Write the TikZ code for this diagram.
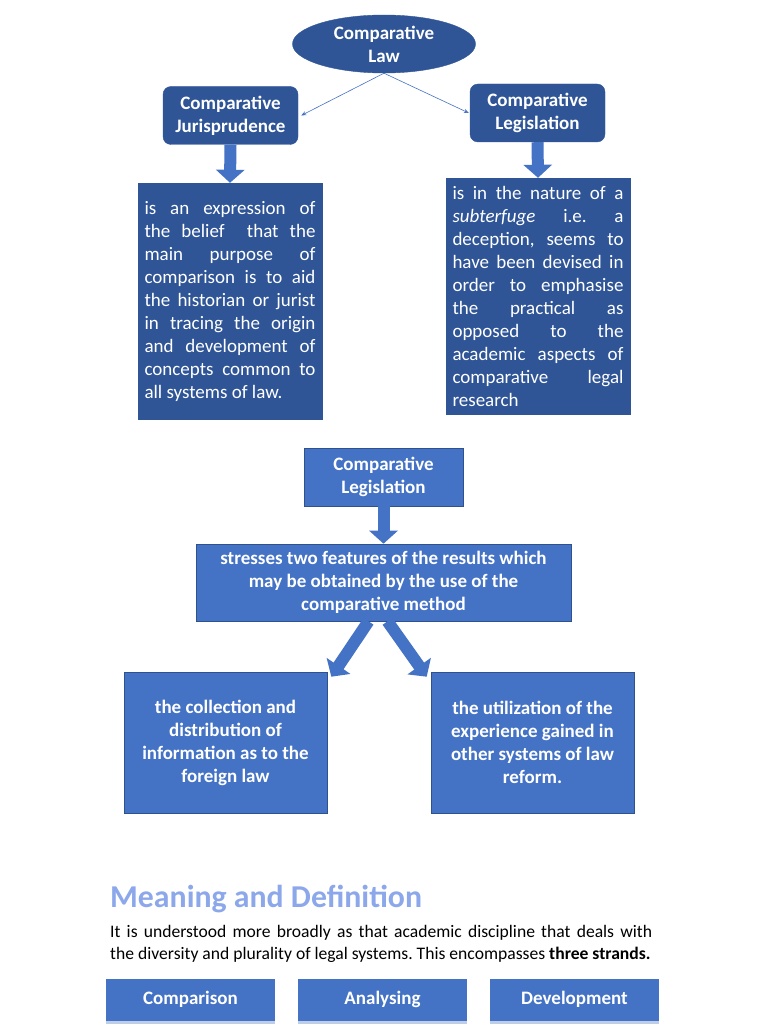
\documentclass[tikz,border=0pt]{standalone}
\usepackage{fontspec}
\setmainfont{Carlito}
\usetikzlibrary{shapes.geometric,arrows.meta}
\definecolor{dkblue}{RGB}{47,85,151}
\definecolor{ltblue}{RGB}{68,114,196}
\definecolor{hdblue}{RGB}{140,168,235}
\definecolor{edgeblue}{RGB}{47,82,143}
\definecolor{stripblue}{RGB}{190,205,232}
\begin{document}
\begin{tikzpicture}[x=1pt,y=-1pt,
  boxfont/.style={font=\fontsize{19}{23}\selectfont},
  headbox/.style={boxfont, font=\fontsize{19}{23}\selectfont\bfseries, text=white, fill=dkblue, draw=dkblue, rounded corners=8pt, align=center, inner sep=0pt},
  darkbox/.style={boxfont, text=white, fill=dkblue, draw=dkblue, inner xsep=6.5pt, inner ysep=0pt, align=justify},
  litebox/.style={font=\fontsize{19}{23}\selectfont\bfseries, text=white, fill=ltblue, draw=edgeblue, line width=0.6pt, align=center, inner sep=0pt},
  stripbox/.style={font=\fontsize{19}{23}\selectfont\bfseries, text=white, fill=ltblue, minimum width=169pt, minimum height=42pt, inner sep=0pt},
  blockarrow/.style={draw=ltblue, line width=12pt, -{Triangle[width=28pt,length=13pt]}},
  thinarrow/.style={draw=ltblue, line width=0.6pt, -{Stealth[length=5pt,width=4pt]}}
]
\useasboundingbox (0,0) rectangle (768,1024);
\fill[white] (0,0) rectangle (768,1024);

% top part
\node[ellipse, fill=dkblue, draw=dkblue, text=white, minimum width=183pt, minimum height=58pt, inner sep=0pt, align=center, font=\fontsize{19}{23}\selectfont\bfseries] (law) at (384,44) {Comparative\\Law};
\node[headbox, minimum width=135pt, minimum height=58pt] (jur) at (230.5,115.5) {Comparative\\Jurisprudence};
\node[headbox, minimum width=135pt, minimum height=58pt] (leg) at (537.5,113) {Comparative\\Legislation};

\draw[thinarrow] (law.south) -- ([xshift=3pt]jur.east);
\draw[thinarrow] (law.south) -- ([xshift=-1pt]leg.west);

\node[darkbox, minimum width=184pt, minimum height=236pt, text width=171pt] (jtext) at (230,301) {\frenchspacing\tolerance=10000\hyphenpenalty=10000
is an expression of\linebreak the belief\ \ that the\linebreak main purpose of\linebreak comparison is to aid\linebreak the historian or jurist\linebreak in tracing the origin\linebreak and development of\linebreak concepts common to\linebreak all systems of law.};

\node[darkbox, minimum width=184pt, minimum height=236pt, text width=171pt] (ltext) at (538,296) {\frenchspacing\tolerance=10000\hyphenpenalty=10000
is in the nature of a\linebreak \textit{subterfuge} i.e. a\linebreak deception, seems to\linebreak have been devised in\linebreak order to emphasise\linebreak the practical as\linebreak opposed to the\linebreak academic aspects of\linebreak comparative legal\linebreak research};

\draw[blockarrow] (jur.south) -- (jtext.north);
\draw[blockarrow] (leg.south) -- (ltext.north);

% middle part
\node[litebox, minimum width=159pt, minimum height=58pt] (leg2) at (383.5,477) {Comparative\\Legislation};
\node[litebox, minimum width=375pt, minimum height=77pt] (stress) at (383.5,582.5) {stresses two features of the results which\\may be obtained by the use of the\\comparative method};
\node[litebox, minimum width=203pt, minimum height=141pt] (coll) at (225.5,742.5) {the collection and\\distribution of\\information as to the\\foreign law};
\node[litebox, minimum width=203pt, minimum height=141pt] (util) at (532.5,742.5) {the utilization of the\\experience gained in\\other systems of law\\reform.};

\draw[blockarrow] (leg2.south) -- (stress.north);
\draw[blockarrow] ([xshift=-15pt]stress.south) -- ([xshift=4pt,yshift=-5pt]coll.north east);
\draw[blockarrow] ([xshift=4pt]stress.south) -- ([xshift=-4pt,yshift=-5pt]util.north west);

% bottom part
\node[anchor=base west, inner sep=0pt, text=hdblue, font=\fontsize{31.8}{37}\selectfont\bfseries] (head) at (110,907) {Meaning and Definition};
\node[anchor=north west, inner sep=0pt, text width=542pt, align=justify, font=\fontsize{17.6}{22}\selectfont] (para) at (110,925) {\frenchspacing\tolerance=10000\hyphenpenalty=10000
It is understood more broadly as that academic discipline that deals with\linebreak the diversity and plurality of legal systems. This encompasses \textbf{three strands.}};

\node[stripbox] (comp) at (190.5,999.5) {Comparison};
\node[stripbox] (anal) at (382.5,999.5) {Analysing};
\node[stripbox] (dev) at (574.5,999.5) {Development};
\foreach \b in {comp,anal,dev}{
  \fill[stripblue] (\b.south west) rectangle ([yshift=-4pt]\b.south east);
}
\end{tikzpicture}
\end{document}
